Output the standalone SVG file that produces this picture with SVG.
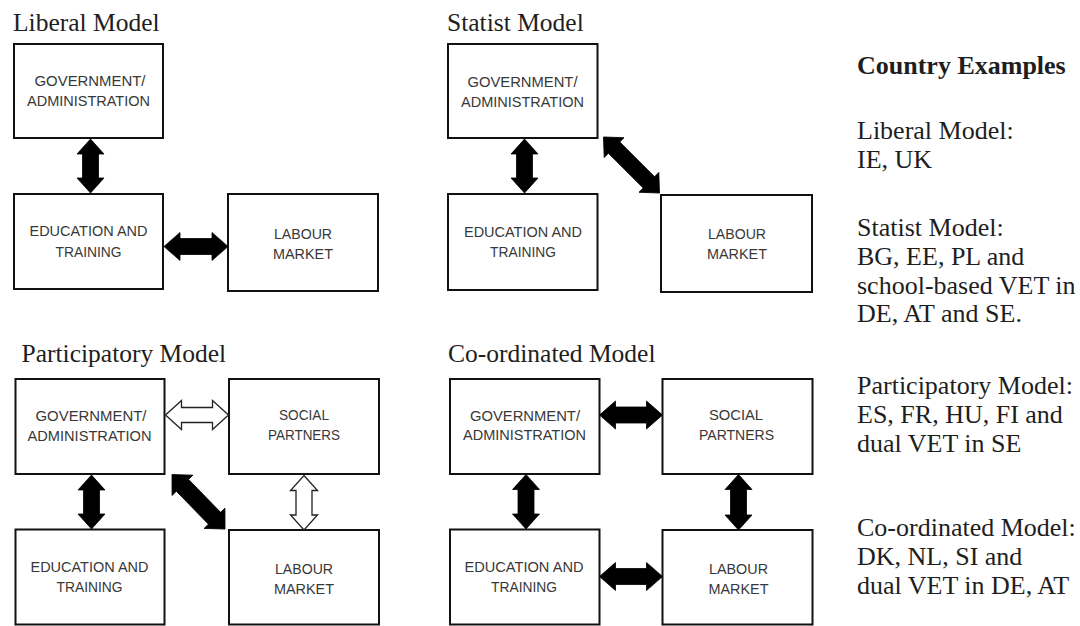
<svg xmlns="http://www.w3.org/2000/svg" width="1080" height="626" viewBox="0 0 1080 626">
<style>
.box{fill:#fff;stroke:#111;stroke-width:2}
.lbl{font-family:"Liberation Sans",Arial,sans-serif;font-size:14px;fill:#383838;text-anchor:middle}
.title{font-family:"Liberation Serif","Times New Roman",serif;font-size:25.5px;fill:#1e1e1e}
.ex{font-family:"Liberation Serif","Times New Roman",serif;font-size:26px;fill:#1e1e1e}
.exb{font-weight:bold}
.solid{fill:#000;stroke:#000;stroke-width:0.8;stroke-linejoin:miter}
.open{fill:#fff;stroke:#222;stroke-width:1.3;stroke-linejoin:miter}
</style>
<rect width="1080" height="626" fill="#fff"/>

<g id="titles">
<text class="title" x="13" y="31">Liberal Model</text>
<text class="title" x="447" y="31">Statist Model</text>
<text class="title" x="21.5" y="362">Participatory Model</text>
<text class="title" x="448" y="362">Co-ordinated Model</text>
</g>

<!-- Liberal model -->
<g id="lib-gov">
<rect class="box" x="14" y="44" width="149" height="94"/>
<text class="lbl" x="90" y="86" textLength="111" lengthAdjust="spacingAndGlyphs">GOVERNMENT/</text>
<text class="lbl" x="88.5" y="106" textLength="123" lengthAdjust="spacingAndGlyphs">ADMINISTRATION</text>
</g>
<g id="lib-edu">
<rect class="box" x="14" y="194" width="149" height="95"/>
<text class="lbl" x="88.5" y="236" textLength="118" lengthAdjust="spacingAndGlyphs">EDUCATION AND</text>
<text class="lbl" x="88.5" y="256.5" textLength="66" lengthAdjust="spacingAndGlyphs">TRAINING</text>
</g>
<g id="lib-lab">
<rect class="box" x="228" y="194" width="150" height="97"/>
<text class="lbl" x="303" y="239" textLength="58" lengthAdjust="spacingAndGlyphs">LABOUR</text>
<text class="lbl" x="303" y="259" textLength="60" lengthAdjust="spacingAndGlyphs">MARKET</text>
</g>

<!-- Statist model -->
<g id="sta-gov">
<rect class="box" x="448" y="44" width="149.5" height="94"/>
<text class="lbl" x="522.5" y="87" textLength="110" lengthAdjust="spacingAndGlyphs">GOVERNMENT/</text>
<text class="lbl" x="522.5" y="106.5" textLength="123" lengthAdjust="spacingAndGlyphs">ADMINISTRATION</text>
</g>
<g id="sta-edu">
<rect class="box" x="448" y="194" width="149.5" height="96"/>
<text class="lbl" x="523" y="237" textLength="118" lengthAdjust="spacingAndGlyphs">EDUCATION AND</text>
<text class="lbl" x="523" y="256.5" textLength="66" lengthAdjust="spacingAndGlyphs">TRAINING</text>
</g>
<g id="sta-lab">
<rect class="box" x="661" y="195" width="151" height="97"/>
<text class="lbl" x="737" y="239" textLength="58" lengthAdjust="spacingAndGlyphs">LABOUR</text>
<text class="lbl" x="737" y="259" textLength="60" lengthAdjust="spacingAndGlyphs">MARKET</text>
</g>

<!-- Participatory model -->
<g id="par-gov">
<rect class="box" x="15.5" y="379" width="149" height="95"/>
<text class="lbl" x="91" y="420.5" textLength="111" lengthAdjust="spacingAndGlyphs">GOVERNMENT/</text>
<text class="lbl" x="89.5" y="440.5" textLength="124" lengthAdjust="spacingAndGlyphs">ADMINISTRATION</text>
</g>
<g id="par-soc">
<rect class="box" x="229" y="379" width="150" height="95"/>
<text class="lbl" x="304" y="420" textLength="50" lengthAdjust="spacingAndGlyphs">SOCIAL</text>
<text class="lbl" x="304" y="440" textLength="72" lengthAdjust="spacingAndGlyphs">PARTNERS</text>
</g>
<g id="par-edu">
<rect class="box" x="15.5" y="529.5" width="149" height="95"/>
<text class="lbl" x="89.5" y="571.5" textLength="118" lengthAdjust="spacingAndGlyphs">EDUCATION AND</text>
<text class="lbl" x="89.5" y="592" textLength="66" lengthAdjust="spacingAndGlyphs">TRAINING</text>
</g>
<g id="par-lab">
<rect class="box" x="229" y="530" width="150" height="94.5"/>
<text class="lbl" x="304" y="574" textLength="58" lengthAdjust="spacingAndGlyphs">LABOUR</text>
<text class="lbl" x="304" y="594" textLength="60" lengthAdjust="spacingAndGlyphs">MARKET</text>
</g>

<!-- Co-ordinated model -->
<g id="coo-gov">
<rect class="box" x="450" y="379" width="149.5" height="95"/>
<text class="lbl" x="525" y="420.5" textLength="110" lengthAdjust="spacingAndGlyphs">GOVERNMENT/</text>
<text class="lbl" x="524.5" y="440" textLength="123" lengthAdjust="spacingAndGlyphs">ADMINISTRATION</text>
</g>
<g id="coo-soc">
<rect class="box" x="662.5" y="379" width="150" height="95"/>
<text class="lbl" x="736" y="420" textLength="54" lengthAdjust="spacingAndGlyphs">SOCIAL</text>
<text class="lbl" x="736.5" y="440" textLength="75" lengthAdjust="spacingAndGlyphs">PARTNERS</text>
</g>
<g id="coo-edu">
<rect class="box" x="450" y="529.5" width="149.5" height="95"/>
<text class="lbl" x="524" y="571.5" textLength="119" lengthAdjust="spacingAndGlyphs">EDUCATION AND</text>
<text class="lbl" x="524" y="591.5" textLength="66" lengthAdjust="spacingAndGlyphs">TRAINING</text>
</g>
<g id="coo-lab">
<rect class="box" x="662.5" y="530" width="150" height="94.5"/>
<text class="lbl" x="738.5" y="574" textLength="59" lengthAdjust="spacingAndGlyphs">LABOUR</text>
<text class="lbl" x="738.5" y="593.5" textLength="60" lengthAdjust="spacingAndGlyphs">MARKET</text>
</g>

<g id="connectors">
<!-- Liberal -->
<path class="solid" d="M90.5,139 L104,154 L98.5,154 L98.5,178 L104,178 L90.5,193 L77,178 L82.5,178 L82.5,154 L77,154 Z"/>
<path class="solid" d="M164,246.5 L180,232.5 L180,238.5 L212,238.5 L212,232.5 L228,246.5 L212,260.5 L212,254.5 L180,254.5 L180,260.5 Z"/>
<!-- Statist -->
<path class="solid" d="M524.5,139 L538,154 L532.5,154 L532.5,178 L538,178 L524.5,193 L511,178 L516.5,178 L516.5,154 L511,154 Z"/>
<path class="solid" transform="translate(631.5,165) rotate(45)" d="M-39.6,0 L-24.6,-14 L-24.6,-8 L24.6,-8 L24.6,-14 L39.6,0 L24.6,14 L24.6,8 L-24.6,8 L-24.6,14 Z"/>
<!-- Participatory -->
<path class="open" d="M165.5,415 L181.5,400.5 L181.5,407.5 L212.5,407.5 L212.5,400.5 L228.5,415 L212.5,429.5 L212.5,422.5 L181.5,422.5 L181.5,429.5 Z"/>
<path class="solid" d="M91.5,475 L105,490 L99.5,490 L99.5,514 L105,514 L91.5,529 L78,514 L83.5,514 L83.5,490 L78,490 Z"/>
<path class="solid" transform="translate(198.5,501.8) rotate(45.8)" d="M-38,0 L-23,-14.5 L-23,-8.5 L23,-8.5 L23,-14.5 L38,0 L23,14.5 L23,8.5 L-23,8.5 L-23,14.5 Z"/>
<path class="open" d="M304,475.5 L317.5,490.5 L312,490.5 L312,515 L317.5,515 L304,530 L290.5,515 L296,515 L296,490.5 L290.5,490.5 Z"/>
<!-- Co-ordinated -->
<path class="solid" d="M599.5,415 L615.5,401 L615.5,407 L646.5,407 L646.5,401 L662.5,415 L646.5,429 L646.5,423 L615.5,423 L615.5,429 Z"/>
<path class="solid" d="M526,474.5 L539.5,489.5 L534,489.5 L534,514 L539.5,514 L526,529 L512.5,514 L518,514 L518,489.5 L512.5,489.5 Z"/>
<path class="solid" d="M738.5,474.5 L752,489.5 L746.5,489.5 L746.5,515 L752,515 L738.5,530 L725,515 L730.5,515 L730.5,489.5 L725,489.5 Z"/>
<path class="solid" d="M599.5,576.5 L615.5,562.5 L615.5,568.5 L646.5,568.5 L646.5,562.5 L662.5,576.5 L646.5,590.5 L646.5,584.5 L615.5,584.5 L615.5,590.5 Z"/>
</g>

<g id="country-examples">
<text class="ex exb" x="857" y="74">Country Examples</text>
<text class="ex" x="857" y="139">Liberal Model:</text>
<text class="ex" x="857" y="168">IE, UK</text>
<text class="ex" x="857" y="236">Statist Model:</text>
<text class="ex" x="857" y="265">BG, EE, PL and</text>
<text class="ex" x="857" y="294">school-based VET in</text>
<text class="ex" x="857" y="322">DE, AT and SE.</text>
<text class="ex" x="857" y="394">Participatory Model:</text>
<text class="ex" x="857" y="423">ES, FR, HU, FI and</text>
<text class="ex" x="857" y="452">dual VET in SE</text>
<text class="ex" x="857" y="536">Co-ordinated Model:</text>
<text class="ex" x="857" y="565">DK, NL, SI and</text>
<text class="ex" x="857" y="594">dual VET in DE, AT</text>
</g>
</svg>
